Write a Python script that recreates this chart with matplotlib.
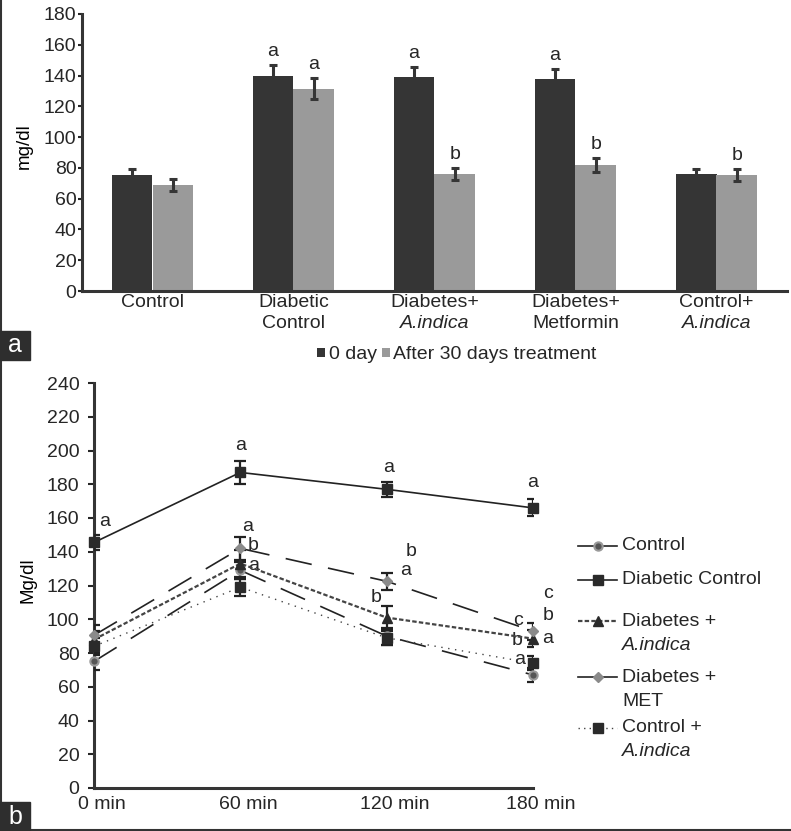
import numpy as np
import matplotlib
matplotlib.use("Agg")
import matplotlib.pyplot as plt
from matplotlib.lines import Line2D
from matplotlib.patches import Rectangle
from matplotlib.transforms import ScaledTranslation

plt.rcParams['font.family'] = ['Liberation Sans', 'DejaVu Sans']
plt.rcParams['text.color'] = '#262626'

# ---- panel a data ----
groups = ['Control', 'Diabetic', 'Diabetes+', 'Diabetes+', 'Control+']
groups_2nd = ['', 'Control', 'A.indica', 'Metformin', 'A.indica']
groups_2nd_italic = [False, False, True, False, True]
day0 = [75.5, 140, 139, 137.5, 76]
day0_err = [3.5, 7, 6.5, 7, 3.5]
day30 = [69, 131.5, 76, 82, 75.5]
day30_err = [3.8, 7, 4, 4.7, 4]
day0_sig = ['', 'a', 'a', 'a', '']
day30_sig = ['', 'a', 'b', 'b', 'b']

# ---- panel b data ----
times = ['0 min', '60 min', '120 min', '180 min']
control = [75, 129, 90, 67]
control_err = [5, 5, 5, 4]
diab_control = [145.5, 187, 177, 166]
diab_control_err = [4.5, 7, 4.5, 5]
diab_ai = [88, 133, 101, 88.5]
diab_ai_err = [5, 8, 7, 5]
diab_met = [90.5, 142, 122.5, 93]
diab_met_err = [6, 7, 5, 5]
ctrl_ai = [84, 119, 89, 74]
ctrl_ai_err = [5, 5, 4, 4]
# letters of significance (x position in time steps, value, letter)
sig_b = [(0.07, 158, 'a'), (1.0, 203, 'a'), (2.01, 190, 'a'), (3.0, 181, 'a'),
         (1.05, 155, 'a'), (1.09, 143.5, 'b'), (1.09, 132, 'a'),
         (1.93, 113, 'b'), (2.17, 140, 'b'), (2.13, 129, 'a'),
         (3.1, 115, 'c'), (3.1, 102, 'b'), (3.1, 88.5, 'a'),
         (2.9, 99.5, 'c'), (2.89, 87.5, 'b'), (2.91, 76, 'a')]

dark = '#353535'
grey = '#9a9a9a'
fs = 14

fig = plt.figure(figsize=(7.91, 8.31), dpi=100)

# ================= panel a =================
ax = fig.add_axes([82/791, 1-291/831, 705/791, 277/831])
x = np.arange(len(groups)) + 0.5
w = 0.29
ax.bar(x - w/2, day0, w, color=dark, label='0 day', zorder=2)
ax.bar(x + w/2, day30, w, color=grey, label='After 30 days treatment', zorder=2)
ax.errorbar(x - w/2, day0, yerr=day0_err, fmt='none', ecolor=dark,
            elinewidth=2.2, capsize=3, capthick=2.2, zorder=3)
ax.errorbar(x + w/2, day30, yerr=day30_err, fmt='none', ecolor=dark,
            elinewidth=2.2, capsize=3, capthick=2.2, zorder=3)
for xi, v, e, s in zip(x - w/2, day0, day0_err, day0_sig):
    ax.text(xi, v + e + 3, s, ha='center', va='bottom', fontsize=fs)
for xi, v, e, s in zip(x + w/2, day30, day30_err, day30_sig):
    ax.text(xi, v + e + 3, s, ha='center', va='bottom', fontsize=fs)

ax.set_xlim(0, 5)
ax.set_ylim(0, 180)
ax.set_yticks(range(0, 181, 20))
ax.set_xticks(x)
ax.set_xticklabels(groups, fontsize=fs)
ax.tick_params(axis='x', length=0, pad=2, colors='#262626')
ax.tick_params(axis='y', direction='out', length=3, width=1.5, pad=1,
               labelsize=fs, colors='#262626')
# second line of the category names
line2 = ax.get_xaxis_transform() + ScaledTranslation(0, -32/100, fig.dpi_scale_trans)
for xi, s, it in zip(x, groups_2nd, groups_2nd_italic):
    ax.text(xi, 0, s, transform=line2, ha='center', va='center', fontsize=fs,
            style='italic' if it else 'normal')
for sp in ['top', 'right']:
    ax.spines[sp].set_visible(False)
for sp in ['left', 'bottom']:
    ax.spines[sp].set_linewidth(2.2)
    ax.spines[sp].set_color(dark)
ax.set_ylabel('mg/dl', fontsize=13.5)
ax.yaxis.set_label_coords(-0.0695, 0.523)

fig.legend(*ax.get_legend_handles_labels(), loc='center',
           bbox_to_anchor=(457/791, 1-355/831), ncol=2, frameon=False,
           fontsize=fs, handlelength=0.4, handleheight=0.4,
           handletextpad=0.2, columnspacing=0.25, borderpad=0)

# ================= panel b =================
bx = fig.add_axes([94/791, 1-788/831, 439/791, 405/831])
t = np.arange(len(times))
ebkw = dict(elinewidth=1.6, capsize=4, capthick=1.6, ecolor='#222222')
series = [
    ('Control', '', control, control_err,
     dict(color='#222222', lw=1.2, dashes=(16, 10), marker='o', ms=6,
          mfc='#555555', mec='#9a9a9a', mew=1.5)),
    ('Diabetic Control', '', diab_control, diab_control_err,
     dict(color='#222222', lw=1.2, ls='-', marker='s', ms=7,
          mfc='#2a2a2a', mec='#2a2a2a')),
    ('Diabetes +', 'A.indica', diab_ai, diab_ai_err,
     dict(color='#444444', lw=1.6, dashes=(2, 1), marker='^', ms=7,
          mfc='#2a2a2a', mec='#2a2a2a')),
    ('Diabetes +', 'MET', diab_met, diab_met_err,
     dict(color='#222222', lw=1.2, dashes=(16, 10), marker='D', ms=5,
          mfc='#8a8a8a', mec='#8a8a8a')),
    ('Control +', 'A.indica', ctrl_ai, ctrl_ai_err,
     dict(color='#444444', lw=1.0, dashes=(1, 4), marker='s', ms=7,
          mfc='#2a2a2a', mec='#2a2a2a')),
]
for name, sub, vals, errs, kw in series:
    bx.errorbar(t, vals, yerr=errs, fmt='none', zorder=3, **ebkw)
    bx.plot(t, vals, clip_on=False, zorder=4, **kw)

for xi, yi, s in sig_b:
    bx.text(xi, yi, s, ha='center', va='center', fontsize=fs, clip_on=False)

bx.set_xlim(0, 3)
bx.set_ylim(0, 240)
bx.set_yticks(range(0, 241, 20))
bx.set_xticks(t)
bx.set_xticklabels(times, fontsize=fs)
bx.tick_params(axis='x', length=0, pad=6, colors='#262626')
bx.tick_params(axis='y', direction='out', length=4.5, width=1.5, pad=6,
               labelsize=fs, colors='#262626')
off = ScaledTranslation(8/100, 0, fig.dpi_scale_trans)
for lab in bx.get_xticklabels():
    lab.set_transform(lab.get_transform() + off)
for sp in ['top', 'right']:
    bx.spines[sp].set_visible(False)
for sp in ['left', 'bottom']:
    bx.spines[sp].set_linewidth(2.2)
    bx.spines[sp].set_color(dark)
bx.set_ylabel('Mg/dl', fontsize=13.5)
bx.yaxis.set_label_coords(-0.132, 0.514)

# legend of panel b, handle beside the first line of each entry
row_y = [546, 580, 621, 677, 728]
W, H = 791, 831
for (name, sub, vals, errs, kw), yp in zip(series, row_y):
    hkw = dict(kw)
    if hkw.get('dashes') == (16, 10):
        hkw.pop('dashes')
        hkw['ls'] = '-'
    if hkw.get('dashes') == (1, 4):
        hkw['dashes'] = (1, 3)
    yf = 1 - yp / H
    fig.add_artist(Line2D([578/W, 597.5/W, 617/W], [yf, yf, yf],
                          transform=fig.transFigure, markevery=[1], **hkw))
    fig.text(622/W, yf, name, fontsize=fs, ha='left', va='center')
    if sub:
        fig.text(622/W, yf - 24/H, sub, fontsize=fs, ha='left', va='center',
                 style='italic' if sub == 'A.indica' else 'normal')

# ---- panel tags and frame ----
for tag, y0 in [('a', 1-360/H), ('b', 0)]:
    fig.patches.append(Rectangle((0, y0), 30/W, 29/H, transform=fig.transFigure,
                                 color='#2e2e2e', zorder=5))
    fig.text(15/W, y0 + 14.5/H, tag, color='white', fontsize=18,
             ha='center', va='center', zorder=6)
fig.add_artist(Line2D([1/W, 1/W], [0, 1], transform=fig.transFigure,
                      color='#333333', lw=1.5))
fig.add_artist(Line2D([0, 1], [1.5/H, 1.5/H], transform=fig.transFigure,
                      color='#333333', lw=1.5))

fig.savefig('out.png', dpi=100)
